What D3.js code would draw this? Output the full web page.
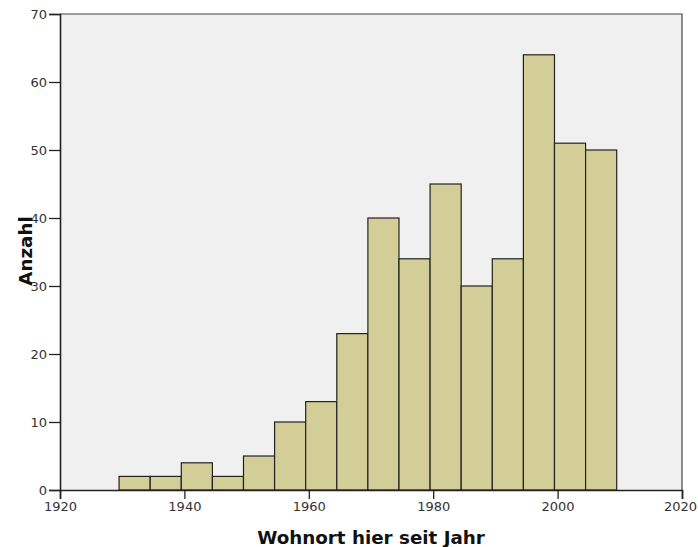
<!DOCTYPE html>
<html>
<head>
<meta charset="utf-8">
<script src="https://cdn.jsdelivr.net/npm/d3@7"></script>
<style>
  body { margin: 0; background: #fff; }
  svg text { font-family: "DejaVu Sans", Verdana, sans-serif; }
</style>
</head>
<body>
<div id="chart"></div>
<script>
// Histogramm: Wohnort hier seit Jahr (Klassenbreite 5 Jahre)
var binStarts = [1929.5, 1934.5, 1939.5, 1944.5, 1949.5, 1954.5, 1959.5, 1964.5,
                 1969.5, 1974.5, 1979.5, 1984.5, 1989.5, 1994.5, 1999.5, 2004.5];
var counts = [2, 2, 4, 2, 5, 10, 13, 23, 40, 34, 45, 30, 34, 64, 51, 50];
var binWidth = 5;
var xTicks = [1920, 1940, 1960, 1980, 2000, 2020];
var yTicks = [0, 10, 20, 30, 40, 50, 60, 70];

var width = 698, height = 547;
var margin = { top: 14, right: 16, bottom: 57, left: 60 };

var svg = d3.select("#chart")
    .append("svg")
    .attr("width", width)
    .attr("height", height);

var x = d3.scaleLinear()
    .domain([1920, 2020])
    .range([margin.left, width - margin.right]);

var y = d3.scaleLinear()
    .domain([0, 70])
    .range([height - margin.bottom, margin.top]);

// Hintergrund
svg.append("rect")
    .attr("x", x(1920))
    .attr("y", y(70))
    .attr("width", x(2020) - x(1920))
    .attr("height", y(0) - y(70))
    .style("fill", "#f0f0f0");

// Balken
svg.selectAll("rect.bar")
    .data(counts)
    .enter()
    .append("rect")
    .attr("class", "bar")
    .attr("x", function (d, i) { return x(binStarts[i]); })
    .attr("y", function (d) { return y(d); })
    .attr("width", function (d, i) { return x(binStarts[i] + binWidth) - x(binStarts[i]); })
    .attr("height", function (d) { return y(0) - y(d); })
    .style("fill", "#d3ce97")
    .style("stroke", "#222")
    .style("stroke-width", 1.2);

// Rahmen oben / rechts
svg.append("path")
    .attr("d", "M" + x(1920) + "," + y(70) + "H" + x(2020) + "V" + y(0))
    .style("fill", "none")
    .style("stroke", "#444")
    .style("stroke-width", 1.2);

var xAxis = svg.append("g")
    .attr("transform", "translate(0," + y(0) + ")")
    .call(d3.axisBottom(x).tickValues(xTicks).tickFormat(d3.format("d")).tickSize(9).tickPadding(3));

var yAxis = svg.append("g")
    .attr("transform", "translate(" + x(1920) + ",0)")
    .call(d3.axisLeft(y).tickValues(yTicks).tickSize(11).tickPadding(2));

[xAxis, yAxis].forEach(function (ax) {
    ax.select(".domain").style("stroke", "#222").style("stroke-width", 1.6);
    ax.selectAll(".tick line").style("stroke", "#222").style("stroke-width", 1.3);
    ax.selectAll("text")
        .style("font-size", "13px")
        .style("fill", "#333")
        .style("font-family", "'DejaVu Sans', Verdana, sans-serif");
});

// letzte Beschriftung etwas nach links, damit sie nicht abgeschnitten wird
xAxis.selectAll(".tick text")
    .filter(function (d) { return d === 2020; })
    .attr("dx", -2);

svg.append("text")
    .attr("x", 371)
    .attr("y", 544)
    .attr("text-anchor", "middle")
    .style("font-size", "18.3px")
    .style("font-weight", "bold")
    .style("fill", "#111")
    .text("Wohnort hier seit Jahr");

svg.append("text")
    .attr("transform", "translate(32,251) rotate(-90)")
    .attr("text-anchor", "middle")
    .style("font-size", "18.3px")
    .style("font-weight", "bold")
    .style("fill", "#111")
    .text("Anzahl");
</script>
</body>
</html>
